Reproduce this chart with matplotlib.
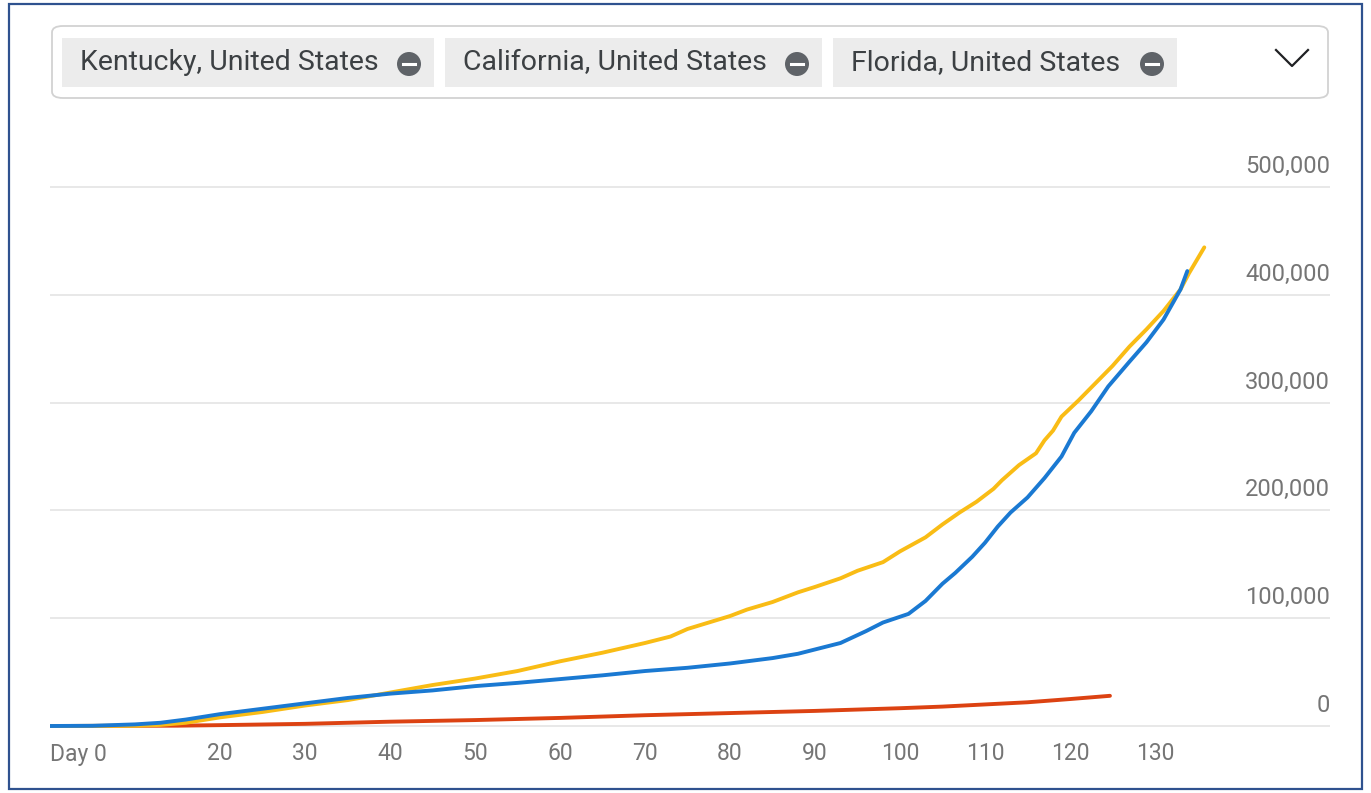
import matplotlib.pyplot as plt
import matplotlib.transforms as mtransforms
from matplotlib.patches import FancyBboxPatch, Rectangle, Ellipse
from matplotlib.lines import Line2D

# Cumulative cases (thousands), by day since day 0
ca_days = [0, 5, 10, 13, 16, 20, 25, 30, 35, 40, 45, 50, 55, 60, 65, 70, 75, 80, 85, 88, 90,
           93, 96, 98, 101, 103, 105, 106.5, 108.5, 110, 111.5, 113, 115, 117, 119, 120.5,
           122.5, 124.5, 127, 129, 131, 133, 133.8]
ca_cases = [0, 0.2, 1.5, 3, 6, 11, 16, 21, 26, 30, 33, 37, 40, 43.5, 47, 51, 54, 58, 63, 67, 71,
            77, 88, 96, 104, 116, 132, 142, 157, 170, 185, 198, 212, 230, 250, 272,
            292, 315, 338, 356, 377, 405, 422]

fl_days = [0, 10, 13, 16, 20, 25, 30, 35, 40, 45, 50, 55, 60, 65, 70, 73, 75, 80, 82, 85, 88,
           90, 93, 95, 98, 100, 103, 105, 107, 109, 111, 112, 114, 116, 117, 118, 119, 121,
           123, 125, 127, 129, 131, 133, 134, 135.8]
fl_cases = [0, 0.2, 1, 3, 8, 13, 19, 24, 31, 38, 44, 51, 60, 68, 77, 83, 90, 102, 108, 115, 124,
            129, 137, 144, 152, 162, 175, 187, 198, 208, 220, 228, 242, 253, 265, 274, 287, 302,
            318, 334, 352, 368, 385, 405, 420, 444]

ky_days = [0, 15, 20, 30, 40, 50, 60, 70, 80, 90, 100, 105, 110, 115, 120, 124.7]
ky_cases = [0, 0.3, 0.8, 2, 4, 5.5, 7.5, 10, 12, 14, 16.5, 18, 20, 22, 25, 28]

chips = ["Kentucky, United States", "California, United States", "Florida, United States"]
x_ticks = [0, 20, 30, 40, 50, 60, 70, 80, 90, 100, 110, 120, 130]
x_labels = ["Day 0", "20", "30", "40", "50", "60", "70", "80", "90", "100", "110", "120", "130"]
y_ticks = [0, 100000, 200000, 300000, 400000, 500000]

W, H = 1371, 793
fig = plt.figure(figsize=(W / 100, H / 100), dpi=100)
plt.rcParams['font.family'] = ['Roboto', 'DejaVu Sans']

def fx(px):
    return px / W

def fy(py):
    return 1 - py / H

# plot area: day 0 at x=50, 10 days = 85 px; 0 at y=726, 500k at y=187
ppu = (726 - 187) / 500000
ymin, ymax = -14000, 510000
ax_bottom = 726 + (0 - ymin) * ppu
ax_top = 187 - (ymax - 500000) * ppu
xmax = (1330 - 50) / 8.5
ax = fig.add_axes([fx(50), fy(ax_bottom), fx(1330) - fx(50), (ax_bottom - ax_top) / H])
ax.set_xlim(0, xmax)
ax.set_ylim(ymin, ymax)

# gridlines with labels sitting above them on the right
for t in y_ticks:
    ax.axhline(t, color='#e6e6e6', lw=1.3, zorder=0)
    ax.text(1.0, t + 20.5 / ppu, f"{t:,}", transform=ax.get_yaxis_transform(),
            ha='right', va='center', fontsize=17, color='#757575')

ax.plot(ky_days, [v * 1000 for v in ky_cases], color='#dc4212', lw=2.8, solid_capstyle='round', zorder=2)
ax.plot(fl_days, [v * 1000 for v in fl_cases], color='#f9bc15', lw=2.8, solid_capstyle='round', zorder=3)
ax.plot(ca_days, [v * 1000 for v in ca_cases], color='#1a79d2', lw=2.8, solid_capstyle='round', zorder=4)

xlab_tr = mtransforms.blended_transform_factory(ax.transData, fig.transFigure)
for t, lab in zip(x_ticks, x_labels):
    ax.text(t, fy(754), lab, transform=xlab_tr,
            ha='left' if t == 0 else 'center', va='center', fontsize=16.5, color='#757575')

for s in ax.spines.values():
    s.set_visible(False)
ax.set_xticks([])
ax.set_yticks([])

# chip bar at the top
fig.patches.append(FancyBboxPatch((fx(52), fy(98)), fx(1328) - fx(52), (98 - 26) / H,
                                  boxstyle="round,pad=0,rounding_size=0.008",
                                  transform=fig.transFigure, fc='white', ec='#d2d2d2', lw=1.3))
chip_x = [(62, 434), (445, 822), (833, 1177)]
for (x0, x1), lab in zip(chip_x, chips):
    fig.patches.append(Rectangle((fx(x0), fy(87)), fx(x1) - fx(x0), (87 - 38) / H,
                                 transform=fig.transFigure, fc='#ececec', ec='none'))
    fig.text(fx(x0 + 18), fy(63), lab, ha='left', va='center', fontsize=20.5, color='#3c4043')
    cx = x1 - 25
    fig.patches.append(Ellipse((fx(cx), fy(64)), 24 / W, 24 / H, transform=fig.transFigure,
                               fc='#5f6368', ec='none'))
    fig.lines.append(Line2D([fx(cx - 6), fx(cx + 6)], [fy(64), fy(64)], transform=fig.transFigure,
                            color='white', lw=2.2))

# dropdown chevron
fig.lines.append(Line2D([fx(1276), fx(1292), fx(1308)], [fy(50), fy(66), fy(50)],
                        transform=fig.transFigure, color='#202124', lw=1.6))

# image frame
fig.patches.append(Rectangle((fx(9), fy(789)), fx(1362) - fx(9), (789 - 4) / H,
                             transform=fig.transFigure, fc='none', ec='#2f528f', lw=1.6))

fig.savefig('out.png', dpi=100)
